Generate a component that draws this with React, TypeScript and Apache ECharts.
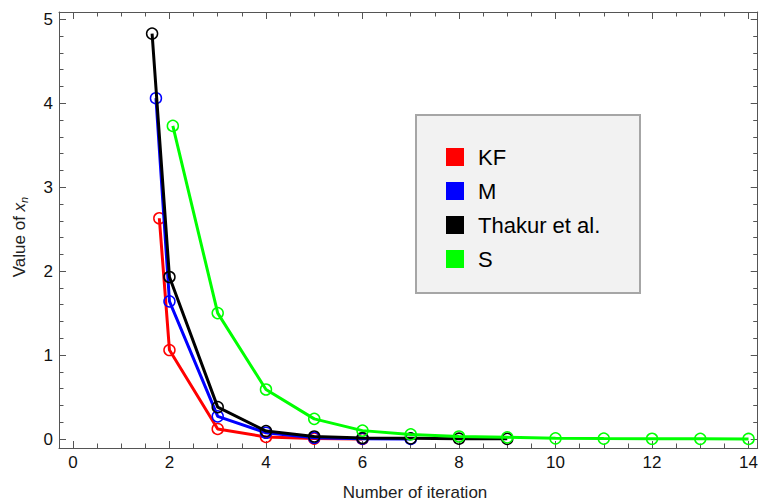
import React, { useEffect, useRef } from "react";
import * as echarts from "echarts";

const seriesNames = ["KF", "M", "Thakur et al.", "S"];
const seriesColors = ["#ff0000", "#0000ff", "#000000", "#00ff00"];

const kfData: [number, number][] = [
  [1.79, 2.63], [2, 1.06], [3, 0.12], [4, 0.025], [5, 0.005], [6, 0.001],
];
const mData: [number, number][] = [
  [1.72, 4.06], [2, 1.64], [3, 0.27], [4, 0.075], [5, 0.015], [6, 0.004], [7, 0.001],
];
const thakurData: [number, number][] = [
  [1.64, 4.83], [2, 1.93], [3, 0.38], [4, 0.095], [5, 0.03], [6, 0.012], [7, 0.008], [8, 0.004], [9, 0.002],
];
const sData: [number, number][] = [
  [2.07, 3.73], [3, 1.5], [4, 0.59], [5, 0.24], [6, 0.1], [7, 0.055], [8, 0.03], [9, 0.02],
  [10, 0.008], [11, 0.005], [12, 0.003], [13, 0.002], [14, 0.001],
];

const xMajorTicks = [0, 2, 4, 6, 8, 10, 12, 14];
const yMajorTicks = [0, 1, 2, 3, 4, 5];
const xMinorTicks: number[] = [];
for (let i = 0; i <= 28; i++) xMinorTicks.push(i * 0.5);
const yMinorTicks: number[] = [];
for (let i = 0; i <= 25; i++) yMinorTicks.push(Math.round(i * 0.2 * 10) / 10);

const X_MIN = -0.289;
const X_MAX = 14.19;
const Y_MIN = -0.107;
const Y_MAX = 5.087;

const FONT = "'Liberation Sans', Arial, sans-serif";
const FRAME = "#555555";

function makeAxis(
  kind: "x" | "y",
  position: string,
  ticks: number[],
  len: number,
  withLine: boolean,
  withLabels: boolean
): any {
  return {
    type: "value",
    position,
    min: kind === "x" ? X_MIN : Y_MIN,
    max: kind === "x" ? X_MAX : Y_MAX,
    axisLine: { show: withLine, onZero: false, lineStyle: { color: FRAME, width: 1 } },
    axisTick: {
      show: true,
      inside: true,
      length: len,
      customValues: ticks,
      lineStyle: { color: FRAME, width: 1 },
    },
    axisLabel: withLabels
      ? {
          show: true,
          customValues: kind === "x" ? xMajorTicks : yMajorTicks,
          color: "#111111",
          fontSize: 17,
          fontFamily: FONT,
          margin: 6,
        }
      : { show: false },
    splitLine: { show: false },
  };
}

export default function App() {
  const ref = useRef<HTMLDivElement>(null);
  useEffect(() => {
    if (!ref.current) return;
    const chart = echarts.init(ref.current, undefined, { renderer: "svg" });
    const datas = [kfData, mData, thakurData, sData];
    chart.setOption({
      animation: false,
      backgroundColor: "#ffffff",
      grid: { left: 59, right: 1, top: 12, bottom: 52, containLabel: false },
      xAxis: [
        makeAxis("x", "bottom", xMajorTicks, 7, true, true),
        makeAxis("x", "bottom", xMinorTicks, 4.5, false, false),
        makeAxis("x", "top", xMajorTicks, 7, true, false),
        makeAxis("x", "top", xMinorTicks, 4.5, false, false),
      ],
      yAxis: [
        makeAxis("y", "left", yMajorTicks, 7, true, true),
        makeAxis("y", "left", yMinorTicks, 4.5, false, false),
        makeAxis("y", "right", yMajorTicks, 7, true, false),
        makeAxis("y", "right", yMinorTicks, 4.5, false, false),
      ],
      legend: {
        orient: "vertical",
        left: 446,
        top: 146,
        padding: 0,
        icon: "rect",
        itemWidth: 18,
        itemHeight: 18,
        itemGap: 12,
        selectedMode: false,
        textStyle: { fontSize: 22, fontFamily: FONT, color: "#000000", lineHeight: 18, padding: [0, 0, 0, 9] },
        data: seriesNames.map((n, i) => ({
          name: n,
          itemStyle: { color: seriesColors[i], borderWidth: 0 },
        })),
      },
      graphic: [
        {
          type: "rect",
          z: -1,
          shape: { x: 416, y: 115, width: 224, height: 178 },
          style: { fill: "#f2f2f2", stroke: "#a6a6a6", lineWidth: 2 },
        },
        {
          type: "text",
          x: 415,
          y: 492,
          style: {
            text: "Number of iteration",
            fontSize: 17,
            fontFamily: FONT,
            fill: "#222222",
            align: "center",
            verticalAlign: "middle",
          },
        },
        {
          type: "text",
          x: 19,
          y: 237,
          rotation: Math.PI / 2,
          style: {
            text: "Value of {x|x}{n|n}",
            fontSize: 17,
            fontFamily: FONT,
            fill: "#222222",
            align: "center",
            verticalAlign: "middle",
            rich: {
              x: { fontSize: 17, fontStyle: "italic", fontFamily: FONT, fill: "#222222" },
              n: { fontSize: 11, fontStyle: "italic", fontFamily: FONT, fill: "#222222", padding: [9, 0, 0, 0] },
            },
          },
        },
      ],
      series: datas.map((d, i) => ({
        name: seriesNames[i],
        type: "line",
        xAxisIndex: 0,
        yAxisIndex: 0,
        data: d,
        symbol: "circle",
        symbolSize: 11,
        showAllSymbol: true,
        color: seriesColors[i],
        lineStyle: { color: seriesColors[i], width: 3 },
        itemStyle: { color: "rgba(255,255,255,0)", borderColor: seriesColors[i], borderWidth: 1.5 },
        z: 2 + i,
      })),
    });
    return () => chart.dispose();
  }, []);
  return <div ref={ref} style={{ width: 761, height: 500, position: "absolute", left: 0, top: 0 }} />;
}
